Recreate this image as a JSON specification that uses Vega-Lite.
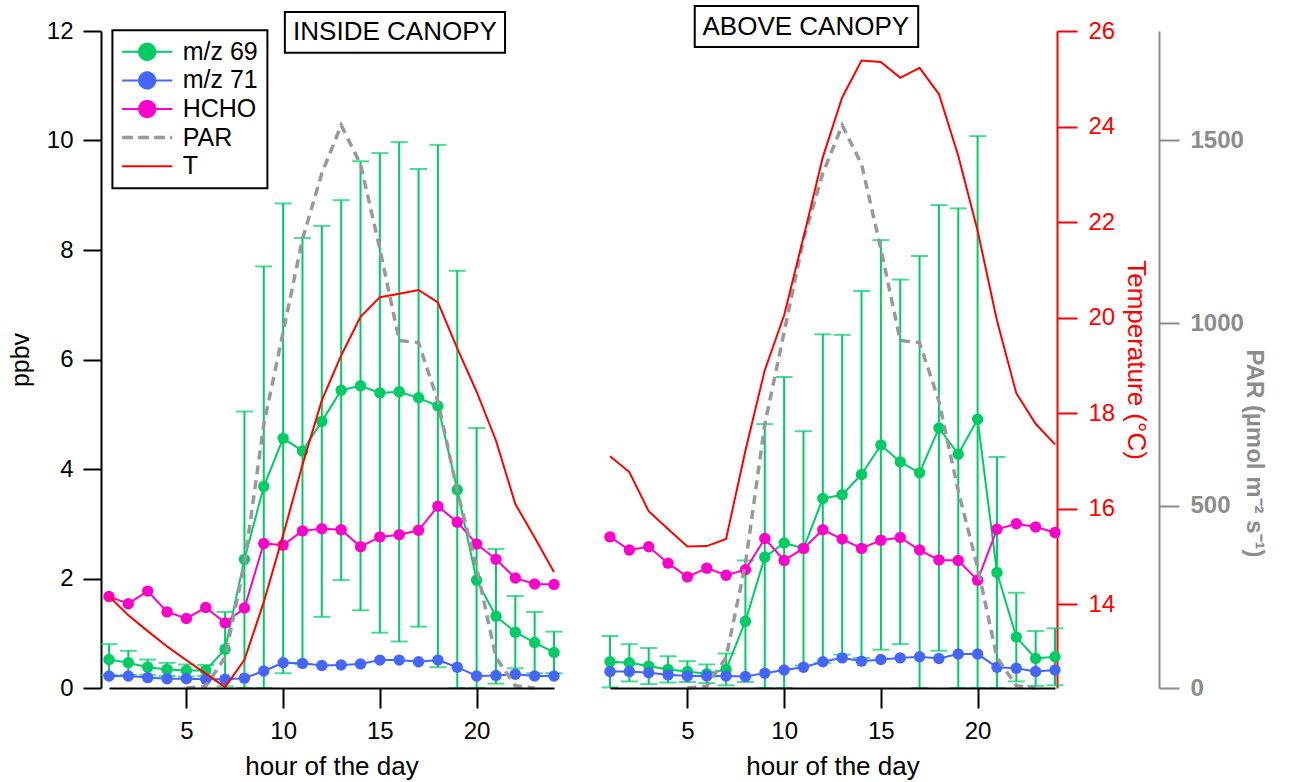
{
  "$schema": "https://vega.github.io/schema/vega-lite/v6.json",
  "padding": {"left": 8, "top": 4, "right": 5, "bottom": 5},
  "bounds": "flush",
  "spacing": 56,
  "datasets": {
    "inside": [
      {"hour": 1, "m/z 69": 0.52, "sd": 0.28, "m/z 71": 0.22, "HCHO": 1.67, "T": 14.17, "PAR": null},
      {"hour": 2, "m/z 69": 0.46, "sd": 0.22, "m/z 71": 0.22, "HCHO": 1.54, "T": 13.77, "PAR": null},
      {"hour": 3, "m/z 69": 0.38, "sd": 0.14, "m/z 71": 0.19, "HCHO": 1.77, "T": 13.44, "PAR": null},
      {"hour": 4, "m/z 69": 0.34, "sd": 0.12, "m/z 71": 0.17, "HCHO": 1.39, "T": 13.12, "PAR": null},
      {"hour": 5, "m/z 69": 0.32, "sd": 0.11, "m/z 71": 0.17, "HCHO": 1.27, "T": 12.83, "PAR": 0},
      {"hour": 6, "m/z 69": 0.32, "sd": 0.10, "m/z 71": 0.16, "HCHO": 1.47, "T": 12.55, "PAR": 5},
      {"hour": 7, "m/z 69": 0.71, "sd": 0.68, "m/z 71": 0.16, "HCHO": 1.19, "T": 12.27, "PAR": 84},
      {"hour": 8, "m/z 69": 2.35, "sd": 2.70, "m/z 71": 0.18, "HCHO": 1.46, "T": 12.84, "PAR": 340},
      {"hour": 9, "m/z 69": 3.68, "sd": 4.02, "m/z 71": 0.31, "HCHO": 2.64, "T": 14.05, "PAR": 722},
      {"hour": 10, "m/z 69": 4.56, "sd": 4.29, "m/z 71": 0.46, "HCHO": 2.61, "T": 15.45, "PAR": 975},
      {"hour": 11, "m/z 69": 4.33, "sd": 3.89, "m/z 71": 0.45, "HCHO": 2.87, "T": 16.92, "PAR": 1230},
      {"hour": 12, "m/z 69": 4.87, "sd": 3.57, "m/z 71": 0.41, "HCHO": 2.91, "T": 18.27, "PAR": 1410},
      {"hour": 13, "m/z 69": 5.44, "sd": 3.47, "m/z 71": 0.42, "HCHO": 2.89, "T": 19.21, "PAR": 1542},
      {"hour": 14, "m/z 69": 5.52, "sd": 4.10, "m/z 71": 0.44, "HCHO": 2.58, "T": 20.02, "PAR": 1435},
      {"hour": 15, "m/z 69": 5.39, "sd": 4.38, "m/z 71": 0.51, "HCHO": 2.76, "T": 20.43, "PAR": 1203},
      {"hour": 16, "m/z 69": 5.41, "sd": 4.56, "m/z 71": 0.51, "HCHO": 2.80, "T": 20.50, "PAR": 952},
      {"hour": 17, "m/z 69": 5.30, "sd": 4.18, "m/z 71": 0.48, "HCHO": 2.88, "T": 20.58, "PAR": 946},
      {"hour": 18, "m/z 69": 5.15, "sd": 4.77, "m/z 71": 0.51, "HCHO": 3.32, "T": 20.32, "PAR": 786},
      {"hour": 19, "m/z 69": 3.62, "sd": 4.00, "m/z 71": 0.38, "HCHO": 3.03, "T": 19.36, "PAR": 540},
      {"hour": 20, "m/z 69": 1.97, "sd": 2.78, "m/z 71": 0.22, "HCHO": 2.63, "T": 18.45, "PAR": 330},
      {"hour": 21, "m/z 69": 1.31, "sd": 1.23, "m/z 71": 0.23, "HCHO": 2.35, "T": 17.43, "PAR": 84},
      {"hour": 22, "m/z 69": 1.02, "sd": 0.66, "m/z 71": 0.25, "HCHO": 2.01, "T": 16.10, "PAR": 6},
      {"hour": 23, "m/z 69": 0.83, "sd": 0.56, "m/z 71": 0.22, "HCHO": 1.90, "T": 15.40, "PAR": 0},
      {"hour": 24, "m/z 69": 0.65, "sd": 0.38, "m/z 71": 0.22, "HCHO": 1.89, "T": 14.68, "PAR": null}
    ],
    "above": [
      {"hour": 1, "m/z 69": 0.48, "sd": 0.47, "m/z 71": 0.30, "HCHO": 2.76, "T": 17.10, "PAR": null},
      {"hour": 2, "m/z 69": 0.46, "sd": 0.34, "m/z 71": 0.30, "HCHO": 2.52, "T": 16.77, "PAR": null},
      {"hour": 3, "m/z 69": 0.40, "sd": 0.33, "m/z 71": 0.28, "HCHO": 2.58, "T": 15.95, "PAR": null},
      {"hour": 4, "m/z 69": 0.34, "sd": 0.24, "m/z 71": 0.24, "HCHO": 2.28, "T": 15.58, "PAR": null},
      {"hour": 5, "m/z 69": 0.30, "sd": 0.19, "m/z 71": 0.22, "HCHO": 2.03, "T": 15.21, "PAR": 0},
      {"hour": 6, "m/z 69": 0.26, "sd": 0.17, "m/z 71": 0.22, "HCHO": 2.19, "T": 15.22, "PAR": 5},
      {"hour": 7, "m/z 69": 0.34, "sd": 0.29, "m/z 71": 0.22, "HCHO": 2.06, "T": 15.37, "PAR": 84},
      {"hour": 8, "m/z 69": 1.22, "sd": 1.11, "m/z 71": 0.21, "HCHO": 2.16, "T": 17.22, "PAR": 340},
      {"hour": 9, "m/z 69": 2.39, "sd": 2.43, "m/z 71": 0.27, "HCHO": 2.73, "T": 18.90, "PAR": 722},
      {"hour": 10, "m/z 69": 2.65, "sd": 3.03, "m/z 71": 0.33, "HCHO": 2.33, "T": 20.05, "PAR": 975},
      {"hour": 11, "m/z 69": 2.55, "sd": 2.14, "m/z 71": 0.38, "HCHO": 2.55, "T": 21.68, "PAR": 1230},
      {"hour": 12, "m/z 69": 3.46, "sd": 3.00, "m/z 71": 0.48, "HCHO": 2.89, "T": 23.36, "PAR": 1410},
      {"hour": 13, "m/z 69": 3.53, "sd": 2.92, "m/z 71": 0.55, "HCHO": 2.72, "T": 24.61, "PAR": 1542},
      {"hour": 14, "m/z 69": 3.90, "sd": 3.35, "m/z 71": 0.49, "HCHO": 2.55, "T": 25.38, "PAR": 1435},
      {"hour": 15, "m/z 69": 4.44, "sd": 3.74, "m/z 71": 0.52, "HCHO": 2.70, "T": 25.35, "PAR": 1203},
      {"hour": 16, "m/z 69": 4.13, "sd": 3.33, "m/z 71": 0.55, "HCHO": 2.75, "T": 25.02, "PAR": 952},
      {"hour": 17, "m/z 69": 3.93, "sd": 3.96, "m/z 71": 0.57, "HCHO": 2.52, "T": 25.23, "PAR": 946},
      {"hour": 18, "m/z 69": 4.75, "sd": 4.07, "m/z 71": 0.54, "HCHO": 2.34, "T": 24.68, "PAR": 786},
      {"hour": 19, "m/z 69": 4.27, "sd": 4.49, "m/z 71": 0.62, "HCHO": 2.33, "T": 23.39, "PAR": 540},
      {"hour": 20, "m/z 69": 4.91, "sd": 5.17, "m/z 71": 0.62, "HCHO": 1.97, "T": 21.82, "PAR": 330},
      {"hour": 21, "m/z 69": 2.11, "sd": 2.11, "m/z 71": 0.38, "HCHO": 2.90, "T": 19.94, "PAR": 84},
      {"hour": 22, "m/z 69": 0.93, "sd": 0.81, "m/z 71": 0.36, "HCHO": 3.00, "T": 18.42, "PAR": 6},
      {"hour": 23, "m/z 69": 0.54, "sd": 0.50, "m/z 71": 0.30, "HCHO": 2.94, "T": 17.78, "PAR": 0},
      {"hour": 24, "m/z 69": 0.57, "sd": 0.52, "m/z 71": 0.33, "HCHO": 2.84, "T": 17.35, "PAR": null}
    ]
  },
  "hconcat": [
    {
      "width": 445,
      "height": 657,
      "data": {"name": "inside"},
      "layer": [
        {
          "mark": {"type": "errorbar", "color": "#00CC66", "ticks": {"size": 17, "thickness": 2}, "rule": {"strokeWidth": 2}},
          "encoding": {
            "x": {"field": "hour", "type": "quantitative", "title": "hour of the day", "scale": {"domain": [1, 24], "nice": false, "zero": false},
                  "axis": {"orient": "bottom", "title": "hour of the day", "values": [5, 10, 15, 20], "tickSize": 20, "labelPadding": 11, "titlePadding": 10, "titleFontSize": 26, "zindex": 1}},
            "y": {"field": "m/z 69", "type": "quantitative", "scale": {"domain": [0, 12], "nice": false, "zero": false, "clamp": true},
                  "axis": {"orient": "left", "title": "ppbv", "values": [0, 2, 4, 6, 8, 10, 12], "offset": 8, "tickSize": 18, "labelPadding": 10, "titlePadding": 13, "titleFontSize": 25}},
            "yError": {"field": "sd"}
          }
        },
        {
          "transform": [{"fold": ["m/z 69", "m/z 71", "HCHO"], "as": ["series", "value"]}],
          "mark": {"type": "line", "strokeWidth": 2, "point": {"filled": true, "size": 130, "opacity": 1}},
          "encoding": {
            "x": {"field": "hour", "type": "quantitative", "title": "hour of the day", "scale": {"domain": [1, 24], "nice": false, "zero": false}},
            "y": {"field": "value", "type": "quantitative", "scale": {"domain": [0, 12], "nice": false, "zero": false}, "axis": null},
            "color": {
              "field": "series", "type": "nominal",
              "scale": {"domain": ["m/z 69", "m/z 71", "HCHO", "PAR", "T"], "range": ["#00CC66", "#4466FF", "#FF00CC", "#999999", "#FF0000"]},
              "legend": {
                "title": null,
                "orient": "none",
                "legendX": 3.4,
                "legendY": -0.7,
                "padding": 9,
                "symbolSize": 870,
                "symbolOffset": 13.3,
                "labelOffset": 23,
                "rowPadding": 2.6,
                "labelFontSize": 25,
                "labelColor": "black",
                "labelFont": "Liberation Sans",
                "strokeColor": "black",
                "fillColor": "white",
                "encode": {
                  "legend": {"update": {"strokeWidth": {"value": 2}}},
                  "symbols": {
                    "update": {
                      "shape": {"signal": "datum.value === 'PAR' || datum.value === 'T' ? 'M-1.7,0L1.7,0' : 'M-1.7,0L1.7,0M-0.55,0A0.55,0.55,0,1,0,0.55,0A0.55,0.55,0,1,0,-0.55,0Z'"},
                      "stroke": {"signal": "datum.value === 'm/z 69' ? '#00CC66' : datum.value === 'm/z 71' ? '#4466FF' : datum.value === 'HCHO' ? '#FF00CC' : datum.value === 'PAR' ? '#999999' : '#FF0000'"},
                      "fill": {"signal": "datum.value === 'm/z 69' ? '#00CC66' : datum.value === 'm/z 71' ? '#4466FF' : datum.value === 'HCHO' ? '#FF00CC' : 'transparent'"},
                      "strokeWidth": {"signal": "datum.value === 'PAR' ? 3.5 : 2"},
                      "strokeDash": {"signal": "datum.value === 'PAR' ? [11, 5] : [1, 0]"},
                      "opacity": {"value": 1}
                    }
                  }
                }
              }
            }
          }
        },
        {
          "mark": {"type": "line", "color": "#999999", "strokeWidth": 3.5, "strokeDash": [9, 6]},
          "encoding": {
            "x": {"field": "hour", "type": "quantitative", "title": "hour of the day", "scale": {"domain": [1, 24], "nice": false, "zero": false}},
            "y": {"field": "PAR", "type": "quantitative", "scale": {"domain": [0, 1800], "nice": false, "zero": false}, "axis": null}
          }
        },
        {
          "mark": {"type": "line", "color": "#FF0000", "strokeWidth": 2},
          "encoding": {
            "x": {"field": "hour", "type": "quantitative", "title": "hour of the day", "scale": {"domain": [1, 24], "nice": false, "zero": false}},
            "y": {"field": "T", "type": "quantitative", "scale": {"domain": [12.25, 26], "nice": false, "zero": false}, "axis": null}
          }
        },
        {
          "data": {"values": [{}]},
          "mark": {"type": "rect", "fill": "white", "stroke": "black", "strokeWidth": 2},
          "encoding": {
            "x": {"datum": 10.09, "type": "quantitative", "title": "hour of the day", "scale": {"domain": [1, 24], "nice": false, "zero": false}},
            "x2": {"datum": 21.47},
            "y": {"datum": 12.347, "type": "quantitative", "scale": {"domain": [0, 12], "nice": false, "zero": false}, "axis": null},
            "y2": {"datum": 11.604}
          }
        },
        {
          "data": {"values": [{}]},
          "mark": {"type": "text", "text": "INSIDE CANOPY", "fontSize": 26, "font": "Liberation Sans", "color": "black", "align": "center", "baseline": "middle"},
          "encoding": {
            "x": {"datum": 15.78, "type": "quantitative", "title": "hour of the day", "scale": {"domain": [1, 24], "nice": false, "zero": false}},
            "y": {"datum": 11.98, "type": "quantitative", "scale": {"domain": [0, 12], "nice": false, "zero": false}, "axis": null}
          }
        }
      ],
      "resolve": {"scale": {"y": "independent"}}
    },
    {
      "width": 445,
      "height": 657,
      "data": {"name": "above"},
      "layer": [
        {
          "mark": {"type": "errorbar", "color": "#00CC66", "ticks": {"size": 17, "thickness": 2}, "rule": {"strokeWidth": 2}},
          "encoding": {
            "x": {"field": "hour", "type": "quantitative", "title": "hour of the day", "scale": {"domain": [1, 24], "nice": false, "zero": false},
                  "axis": {"orient": "bottom", "title": "hour of the day", "values": [5, 10, 15, 20], "tickSize": 20, "labelPadding": 11, "titlePadding": 10, "titleFontSize": 26, "zindex": 1}},
            "y": {"field": "m/z 69", "type": "quantitative", "scale": {"domain": [0, 12], "nice": false, "zero": false, "clamp": true}, "axis": null},
            "yError": {"field": "sd"}
          }
        },
        {
          "transform": [{"fold": ["m/z 69", "m/z 71", "HCHO"], "as": ["series", "value"]}],
          "mark": {"type": "line", "strokeWidth": 2, "point": {"filled": true, "size": 130, "opacity": 1}},
          "encoding": {
            "x": {"field": "hour", "type": "quantitative", "title": "hour of the day", "scale": {"domain": [1, 24], "nice": false, "zero": false}},
            "y": {"field": "value", "type": "quantitative", "scale": {"domain": [0, 12], "nice": false, "zero": false}, "axis": null},
            "color": {
              "field": "series", "type": "nominal",
              "scale": {"domain": ["m/z 69", "m/z 71", "HCHO"], "range": ["#00CC66", "#4466FF", "#FF00CC"]},
              "legend": null
            }
          }
        },
        {
          "mark": {"type": "line", "color": "#999999", "strokeWidth": 3.5, "strokeDash": [9, 6]},
          "encoding": {
            "x": {"field": "hour", "type": "quantitative", "title": "hour of the day", "scale": {"domain": [1, 24], "nice": false, "zero": false}},
            "y": {"field": "PAR", "type": "quantitative", "scale": {"domain": [0, 1800], "nice": false, "zero": false},
                  "axis": {"orient": "right", "offset": 104, "title": "PAR (µmol m⁻² s⁻¹)", "values": [0, 500, 1000, 1500], "format": "d",
                           "tickSize": 20, "labelPadding": 11, "titlePadding": -2, "titleY": 422, "titleFontSize": 24,
                           "domainColor": "#8c8c8c", "tickColor": "#8c8c8c", "labelColor": "#8c8c8c", "titleColor": "#8c8c8c",
                           "labelFontWeight": "bold", "titleFontWeight": "bold"}}
          }
        },
        {
          "mark": {"type": "line", "color": "#FF0000", "strokeWidth": 2},
          "encoding": {
            "x": {"field": "hour", "type": "quantitative", "title": "hour of the day", "scale": {"domain": [1, 24], "nice": false, "zero": false}},
            "y": {"field": "T", "type": "quantitative", "scale": {"domain": [12.25, 26], "nice": false, "zero": false},
                  "axis": {"orient": "right", "offset": 2, "title": "Temperature (°C)", "values": [14, 16, 18, 20, 22, 24, 26],
                           "tickSize": 20, "labelPadding": 11, "titlePadding": 8, "titleFontSize": 26,
                           "domainColor": "#FF0000", "tickColor": "#FF0000", "labelColor": "#FF0000", "titleColor": "#FF0000"}}
          }
        },
        {
          "data": {"values": [{}]},
          "mark": {"type": "rect", "fill": "white", "stroke": "black", "strokeWidth": 2},
          "encoding": {
            "x": {"datum": 5.38, "type": "quantitative", "title": "hour of the day", "scale": {"domain": [1, 24], "nice": false, "zero": false}},
            "x2": {"datum": 16.93},
            "y": {"datum": 12.457, "type": "quantitative", "scale": {"domain": [0, 12], "nice": false, "zero": false}, "axis": null},
            "y2": {"datum": 11.708}
          }
        },
        {
          "data": {"values": [{}]},
          "mark": {"type": "text", "text": "ABOVE CANOPY", "fontSize": 26, "font": "Liberation Sans", "color": "black", "align": "center", "baseline": "middle"},
          "encoding": {
            "x": {"datum": 11.12, "type": "quantitative", "title": "hour of the day", "scale": {"domain": [1, 24], "nice": false, "zero": false}},
            "y": {"datum": 12.07, "type": "quantitative", "scale": {"domain": [0, 12], "nice": false, "zero": false}, "axis": null}
          }
        }
      ],
      "resolve": {"scale": {"y": "independent"}}
    }
  ],
  "resolve": {"scale": {"color": "independent"}, "legend": {"color": "independent"}},
  "config": {
    "font": "Liberation Sans",
    "view": {"stroke": null},
    "axis": {
      "grid": false,
      "domainWidth": 2,
      "tickWidth": 2,
      "domainColor": "black",
      "tickColor": "black",
      "labelColor": "black",
      "titleColor": "black",
      "labelFontSize": 24,
      "titleFontSize": 24,
      "titleFontWeight": "normal",
      "labelFont": "Liberation Sans",
      "titleFont": "Liberation Sans",
      "labelOverlap": false,
      "labelFlush": false
    }
  }
}
